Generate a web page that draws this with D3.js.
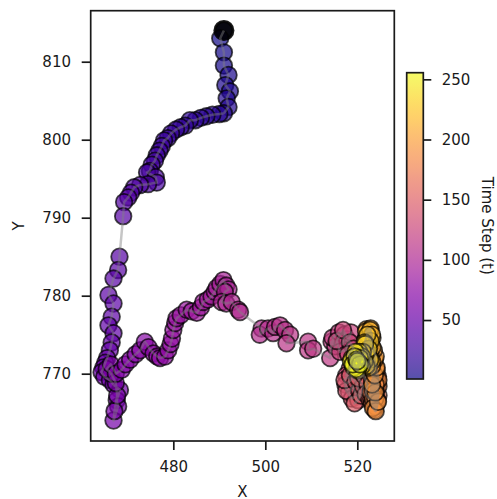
<!DOCTYPE html>
<html><head><meta charset="utf-8">
<script src="https://cdn.jsdelivr.net/npm/d3@7"></script>
<style>body{margin:0;background:#fff} svg{display:block} text{font-family:"DejaVu Sans",sans-serif;}</style>
</head><body><svg id="c" width="497" height="499"></svg>
<script>
// Trajectory positions, time step t = index + 1
const posX = [
 491.0, 490.2, 491.0, 491.0, 492.0, 491.3, 492.3, 491.6, 492.0, 491.0, 490.0, 488.5, 487.2, 486.0, 484.8, 483.6, 482.6, 481.6, 480.6, 479.5,
 478.8, 478.0, 477.5, 477.0, 476.4, 476.0, 475.3, 474.9, 474.3, 476.2, 476.4, 474.5, 472.8, 471.5, 470.8, 470.2, 469.3, 469.1,
 468.3, 468.0, 467.0, 465.9, 467.0, 466.6, 465.9, 467.0, 466.6, 466.2, 465.6, 465.2, 464.8, 464.4, 465.0, 466.2, 467.0, 468.4, 467.7, 468.0,
 467.0, 467.2, 467.8, 467.5, 466.5, 465.5, 466.4, 467.5, 468.8, 469.6, 470.6, 471.8, 472.8, 473.8, 474.6, 475.7, 476.5, 477.1, 478.2, 478.9,
 479.4, 479.7, 480.0, 480.4, 480.7,
 481.6, 482.9, 484.0, 485.1, 486.0, 486.5, 487.5, 488.3, 489.0, 489.4, 490.2, 490.9, 491.5, 492.0, 491.2, 490.5, 491.5, 492.7, 494.1, 494.5,
 499.2, 498.8, 500.6, 501.7, 502.1, 503.2, 504.3, 505.4, 504.6, 509.3, 509.3, 510.4, 514.1, 514.4,
 515.2, 514.6, 516.0, 517.2, 516.8, 517.8, 518.6, 517.5, 516.2, 515.5, 516.9, 518.4, 519.2, 518.0, 519.0, 518.3, 517.6, 518.6,
 517.4, 518.2, 519.0, 519.8, 518.8, 517.6, 517.2, 518.4, 519.6, 520.4, 520.2, 519.4, 520.8, 521.2, 520.2, 521.4, 522.2, 521.8, 522.6, 523.0,
 523.2, 523.9, 523.4, 524.0, 523.6, 523.0, 523.8, 524.4, 523.9, 523.2, 524.0, 524.5, 524.2, 524.6, 524.2, 523.8, 523.2, 522.9, 523.4, 524.2,
 524.6, 524.0, 523.4, 523.9, 524.4, 524.0, 523.4, 522.9, 523.6, 524.2, 524.6, 524.0, 523.4, 523.9, 523.4, 524.0, 524.5, 523.9, 523.2, 523.8,
 524.2, 523.8, 523.2, 524.0, 523.6,
 523.0, 523.3, 522.6, 522.0, 522.9, 522.4, 521.8, 522.6, 522.0, 522.9, 523.3, 522.6, 521.9, 522.8, 523.2, 522.3, 521.7, 522.5, 523.2, 522.5,
 521.8, 521.5, 522.2, 522.9, 522.2, 521.6, 522.2, 522.8, 522.0, 521.3, 521.9, 522.5, 521.7, 521.2, 521.6,
 521.0, 520.4, 519.6, 520.4, 521.0, 520.2, 519.4, 518.8, 519.6, 520.6, 520.0, 519.2, 518.6, 519.4, 520.4, 519.8, 519.0, 519.8, 520.6, 520.0
];
const posY = [
 814.0, 813.0, 811.2, 809.5, 808.3, 807.0, 806.2, 805.3, 804.2, 803.4, 803.3, 803.2, 803.0, 802.8, 802.5, 802.5, 801.8, 801.6, 801.3, 800.8,
 800.2, 799.9, 799.2, 798.6, 798.0, 797.3, 796.8, 796.0, 795.8, 795.2, 794.5, 794.3, 794.2, 793.9, 793.2, 792.6, 792.0, 790.2,
 785.0, 783.3, 782.2, 780.1, 779.0, 777.3, 776.2, 775.2, 774.0, 773.0, 772.0, 771.4, 770.8, 770.2, 769.6, 769.2, 768.6, 767.9, 766.6, 765.8,
 764.0, 765.2, 767.2, 768.8, 770.0, 770.6, 771.2, 770.0, 770.5, 771.2, 771.8, 772.5, 773.0, 774.1, 773.4, 772.6, 772.2, 772.0, 772.2, 773.0,
 773.8, 774.5, 775.6, 776.5, 777.1,
 777.5, 778.2, 778.0, 777.8, 778.5, 779.2, 779.5, 779.9, 780.5, 781.0, 781.5, 782.0, 781.3, 780.8, 780.5, 779.2, 779.0, 779.2, 778.2, 777.9,
 775.8, 775.0, 775.8, 775.2, 776.0, 776.2, 775.6, 775.0, 773.9, 774.1, 773.0, 773.2, 772.0, 774.1,
 773.5, 774.6, 775.3, 775.0, 773.8, 774.4, 775.3, 773.0, 772.8, 774.2, 775.6, 774.0, 773.2, 772.5, 771.6, 770.6, 769.8, 769.2,
 768.6, 767.6, 768.4, 767.2, 766.8, 767.8, 769.2, 769.8, 769.0, 767.8, 766.6, 766.2, 767.2, 768.4, 769.4, 769.8, 768.6, 767.4, 766.8, 768.0,
 769.2, 768.4, 767.4, 766.6, 765.8, 766.8, 767.8, 768.8, 769.8, 770.4, 770.8, 769.6, 768.2, 767.2, 766.2, 765.4, 766.2, 767.6, 768.8, 769.2,
 768.4, 767.4, 766.8, 765.8, 766.6, 767.8, 769.6, 770.6, 771.2, 770.4, 769.2, 768.6, 767.8, 766.8, 765.6, 765.2, 766.4, 767.6, 768.6, 769.8,
 770.8, 771.8, 771.0, 772.2, 773.0,
 773.8, 774.6, 775.2, 775.7, 775.8, 775.0, 774.4, 773.6, 772.8, 772.4, 773.4, 774.6, 775.4, 775.6, 775.0, 774.0, 773.2, 772.2, 771.6, 770.8,
 771.6, 772.6, 773.6, 774.2, 775.0, 774.0, 772.8, 771.8, 771.0, 771.8, 772.6, 773.2, 773.8, 772.8, 771.6,
 771.0, 771.6, 772.4, 772.8, 772.2, 770.8, 771.2, 772.0, 772.8, 772.0, 770.4, 770.8, 771.6, 772.2, 771.4, 770.6, 771.2, 771.8, 771.2, 771.6
];
const xTicks = [480, 500, 520];
const yTicks = [770, 780, 790, 800, 810];
const cbTicks = [50, 100, 150, 200, 250];
const xLabel = "X", yLabel = "Y", cbLabel = "Time Step (t)";
const tRange = [1, 255.5];

const svg = d3.select("#c");
const L = 90.7, R = 394.3, T = 10.7, B = 441;
const ink = "#1a1a1a";
const x = d3.scaleLinear().domain([462.04, 528.04]).range([L, R]);
const y = d3.scaleLinear().domain([761.37, 816.54]).range([B, T]);
const norm = d3.scaleLinear().domain(tRange).range([0, 1]);
const color = t => d3.interpolatePlasma(norm(t));
const pts = posX.map((v, i) => ({x: v, y: posY[i], t: i + 1}));

// points
svg.append("g").selectAll("circle").data(pts).join("circle")
  .attr("cx", d => x(d.x)).attr("cy", d => y(d.y)).attr("r", 8.3)
  .attr("fill", d => color(d.t)).attr("fill-opacity", 0.7)
  .attr("stroke", "#000").attr("stroke-opacity", 0.7).attr("stroke-width", 1.8);
// start marker
svg.append("circle").attr("cx", x(posX[0])).attr("cy", y(posY[0])).attr("r", 10.5)
  .attr("fill", "#000").attr("fill-opacity", 0.9);
// trajectory line (on top, as in matplotlib default z-order)
svg.append("path").datum(pts)
  .attr("d", d3.line().x(d => x(d.x)).y(d => y(d.y)))
  .attr("fill", "none").attr("stroke", "#808080").attr("stroke-opacity", 0.45)
  .attr("stroke-width", 2.5).attr("stroke-linejoin", "round").attr("stroke-linecap", "butt");

// axes
const styleAxis = g => {
  g.select(".domain").remove();
  g.selectAll(".tick line").attr("stroke", ink).attr("stroke-width", 1.7);
  g.selectAll(".tick text").attr("fill", ink).attr("font-size", 15).attr("font-family", "DejaVu Sans");
};
svg.append("g").attr("transform", `translate(0,${B})`)
  .call(d3.axisBottom(x).tickValues(xTicks).tickSize(9).tickPadding(11.7).tickFormat(d3.format("d")))
  .call(styleAxis);
svg.append("g").attr("transform", `translate(${L},0)`)
  .call(d3.axisLeft(y).tickValues(yTicks).tickSize(9).tickPadding(10.7).tickFormat(d3.format("d")))
  .call(styleAxis);
svg.append("rect").attr("x", L).attr("y", T).attr("width", R - L).attr("height", B - T)
  .attr("fill", "none").attr("stroke", ink).attr("stroke-width", 1.7);

svg.append("text").attr("x", (L + R) / 2).attr("y", 496.5).attr("text-anchor", "middle")
  .attr("font-size", 15).attr("fill", ink).text(xLabel);
svg.append("text").attr("transform", `translate(23.5,${(T + B) / 2}) rotate(-90)`).attr("text-anchor", "middle")
  .attr("font-size", 15).attr("fill", ink).text(yLabel);

// colorbar
const cbL = 406.7, cbR = 423.3, cbT = 72.7, cbB = 379;
const cb = d3.scaleLinear().domain(tRange).range([cbB, cbT]);
const grad = svg.append("defs").append("linearGradient").attr("id", "cbg")
  .attr("x1", 0).attr("y1", 1).attr("x2", 0).attr("y2", 0);
d3.range(0, 1.0001, 0.02).forEach(s => grad.append("stop").attr("offset", s).attr("stop-color", d3.interpolatePlasma(s)));
svg.append("rect").attr("x", cbL).attr("y", cbT).attr("width", cbR - cbL).attr("height", cbB - cbT)
  .attr("fill", "url(#cbg)").attr("fill-opacity", 0.7);
svg.append("rect").attr("x", cbL).attr("y", cbT).attr("width", cbR - cbL).attr("height", cbB - cbT)
  .attr("fill", "none").attr("stroke", ink).attr("stroke-width", 1.7);
svg.append("g").attr("transform", `translate(${cbR},0)`)
  .call(d3.axisRight(cb).tickValues(cbTicks).tickSize(8).tickPadding(10.4).tickFormat(d3.format("d")))
  .call(styleAxis);
svg.append("text").attr("transform", `translate(482.3,${(cbT + cbB) / 2}) rotate(90)`).attr("text-anchor", "middle")
  .attr("font-size", 15).attr("fill", ink).text(cbLabel);
</script></body></html>
